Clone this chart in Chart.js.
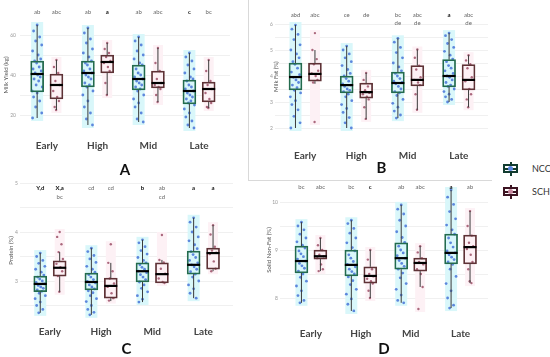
<!DOCTYPE html>
<html lang="en">
<head>
<meta charset="UTF-8" />
<title>Milk traits by lactation stage</title>
<script src="https://cdn.jsdelivr.net/npm/chart.js"></script>
<style>
  body { margin: 0; background: #fff; font-family: Lato, 'Open Sans', sans-serif; }
  #wrap { position: relative; width: 550px; height: 357px; overflow: hidden; }
  #wrap canvas { position: absolute; }
  .sep { position: absolute; background: #d9d9d9; }
  .legend { position: absolute; left: 503px; top: 157px; font-size: 9px; color: #333; }
  .legend .row { display: flex; align-items: center; height: 23px; }
  .icon { position: relative; width: 15px; height: 14px; margin-right: 14px; }
  .icon span { position: absolute; }
  .icon .wk { left: 6.5px; top: 0; width: 2px; height: 14px; }
  .icon .bx { left: 0; top: 2.5px; width: 15px; height: 9px; border: 2px solid; box-sizing: border-box; background: #fff; }
  .icon .md { left: 0; top: 6px; width: 15px; height: 2px; }
  .icon .dt { left: 5px; top: 4.5px; width: 5px; height: 5px; border-radius: 50%; }
</style>
</head>
<body>
<div id="wrap">
  <canvas id="chartA" width="247" height="178" style="left:0;top:0"></canvas>
  <canvas id="chartB" width="243" height="180" style="left:249px;top:0"></canvas>
  <canvas id="chartC" width="247" height="179" style="left:0;top:178px"></canvas>
  <canvas id="chartD" width="243" height="179" style="left:249px;top:178px"></canvas>
  <div class="sep" style="left:248px;top:0;width:1px;height:181px"></div>
  <div class="sep" style="left:248px;top:180px;width:244px;height:1px"></div>
  <div class="legend">
    <div class="row">
      <div class="icon">
        <span class="wk" style="background:#123c30"></span>
        <span class="bx" style="border-color:#123c30"></span>
        <span class="md" style="background:#123c30"></span>
        <span class="dt" style="background:#5a86e0"></span>
      </div>NCC
    </div>
    <div class="row">
      <div class="icon">
        <span class="wk" style="background:#3c1422"></span>
        <span class="bx" style="border-color:#3c1422"></span>
        <span class="md" style="background:#3c1422"></span>
        <span class="dt" style="background:#c98aa0"></span>
      </div>SCH
    </div>
  </div>
</div>

<script>
  const categories = ['Early', 'High', 'Mid', 'Late'];

  // box stats per stage: [min, q1, median, q3, max]
  const yieldNCC = [[18.5, 31.5, 40.5, 47, 65], [15, 34, 41, 47, 63.5], [16.5, 32.5, 38, 45, 59], [13.5, 25.5, 32, 37.5, 51]];
  const yieldSCH = [[22.5, 28, 35, 40.5, 47.5], [30, 41, 46.5, 50, 56], [26.5, 33.5, 36, 42, 53.5], [23.5, 26.5, 33, 36.5, 47.5]];
  const yieldNCCPts = [
    [65, 62, 59, 57, 55, 52, 50, 48, 47, 46, 44, 43, 42, 41, 40, 39, 38, 37, 35, 34, 32, 31, 29, 27, 24, 21, 18.5],
    [63.5, 61, 58, 56, 53, 51, 49, 47, 46, 45, 43, 42, 41, 40, 39, 38, 36, 35, 34, 32, 30, 27, 24, 21, 18, 15],
    [59, 57, 55, 52, 50, 48, 46, 45, 43, 41, 40, 39, 38, 37, 36, 35, 34, 33, 32, 30, 28, 26, 24, 21, 18, 16.5],
    [51, 49, 47, 45, 43, 41, 39, 38, 37, 35, 34, 33, 32, 31, 30, 29, 28, 27, 26, 25, 23, 21, 19, 17, 15, 13.5]
  ];
  const yieldSCHPts = [
    [47.5, 44, 41, 37, 35, 32, 29, 27, 24, 22.5],
    [56, 53, 51, 49, 47, 46, 44, 42, 36, 30],
    [53.5, 46, 42, 38, 36, 35, 34, 33, 30, 26.5],
    [47.5, 42, 37, 35, 33, 31, 28, 26, 24, 23.5]
  ];
  const yieldLetters = ['ab', 'abc', 'ab', 'a', 'ab', 'abc', 'c', 'bc'];
  const yieldBold = [false, false, false, true, false, false, true, false];
  const yieldGrid = [20, 30, 40, 50, 60];
  const yieldTicks = [20, 40, 60];

  const fatNCC = [[2.0, 3.46, 3.96, 4.5, 5.96], [2.0, 3.35, 3.65, 4.0, 5.15], [2.38, 3.35, 3.73, 4.15, 5.45], [3.0, 3.58, 4.0, 4.63, 5.65]];
  const fatSCH = [[3.7, 3.8, 4.08, 4.5, 5.0], [2.35, 3.15, 3.38, 3.73, 4.12], [2.7, 3.62, 3.85, 4.4, 5.02], [2.8, 3.46, 3.85, 4.44, 4.8]];
  const fatNCCPts = [
    [5.96, 5.8, 5.6, 5.4, 5.2, 5.0, 4.85, 4.7, 4.55, 4.45, 4.3, 4.15, 4.05, 3.95, 3.85, 3.75, 3.65, 3.55, 3.45, 3.35, 3.2, 3.05, 2.9, 2.7, 2.45, 2.2, 2.0],
    [5.15, 5.0, 4.85, 4.7, 4.55, 4.4, 4.25, 4.1, 4.0, 3.9, 3.8, 3.7, 3.65, 3.6, 3.5, 3.45, 3.4, 3.3, 3.2, 3.05, 2.9, 2.75, 2.6, 2.4, 2.2, 2.0],
    [5.45, 5.3, 5.1, 4.9, 4.7, 4.5, 4.35, 4.2, 4.1, 4.0, 3.9, 3.8, 3.75, 3.7, 3.6, 3.5, 3.4, 3.35, 3.25, 3.1, 2.95, 2.8, 2.65, 2.5, 2.38],
    [5.65, 5.55, 5.4, 5.25, 5.1, 4.95, 4.8, 4.65, 4.55, 4.4, 4.3, 4.2, 4.1, 4.0, 3.95, 3.85, 3.75, 3.65, 3.6, 3.5, 3.4, 3.3, 3.2, 3.1, 3.0]
  ];
  const fatSCHPts = [
    [5.65, 5.0, 4.65, 4.45, 4.2, 4.1, 4.0, 3.85, 3.75, 2.23],
    [4.12, 3.85, 3.6, 3.45, 3.35, 3.3, 3.2, 3.1, 2.8, 2.35],
    [5.02, 4.7, 4.4, 4.25, 3.95, 3.85, 3.75, 3.65, 3.3, 2.7],
    [4.8, 4.6, 4.45, 4.3, 3.95, 3.8, 3.5, 3.3, 3.1, 2.8]
  ];
  const fatLetters = ['abd', 'abc', 'ce', 'de', 'bc\nde', 'abc\nde', 'a', 'abc\nde'];
  const fatBold = [false, false, false, false, false, false, true, false];
  const fatGrid = [2, 2.5, 3, 3.5, 4, 4.5, 5, 5.5, 6];
  const fatTicks = [2, 3, 4, 5, 6];

  const proteinNCC = [[2.35, 2.78, 2.94, 3.10, 3.57], [2.31, 2.82, 2.98, 3.16, 3.67], [2.57, 2.98, 3.2, 3.37, 3.84], [2.65, 3.14, 3.33, 3.61, 4.29]];
  const proteinSCH = [[2.78, 3.1, 3.27, 3.41, 3.59], [2.59, 2.65, 2.9, 3.06, 3.37], [2.96, 2.96, 3.14, 3.37, 3.43], [3.2, 3.24, 3.57, 3.67, 4.14]];
  const proteinNCCPts = [
    [3.57, 3.5, 3.42, 3.36, 3.3, 3.24, 3.18, 3.12, 3.08, 3.04, 3.0, 2.97, 2.94, 2.91, 2.88, 2.85, 2.82, 2.79, 2.75, 2.7, 2.64, 2.57, 2.5, 2.42, 2.35],
    [3.67, 3.6, 3.52, 3.45, 3.38, 3.3, 3.24, 3.18, 3.13, 3.08, 3.03, 2.99, 2.96, 2.92, 2.88, 2.84, 2.8, 2.76, 2.7, 2.64, 2.58, 2.5, 2.42, 2.36, 2.31],
    [3.84, 3.78, 3.7, 3.62, 3.55, 3.48, 3.42, 3.37, 3.33, 3.28, 3.24, 3.2, 3.17, 3.13, 3.08, 3.03, 2.98, 2.92, 2.85, 2.78, 2.7, 2.63, 2.57],
    [4.29, 4.2, 4.1, 4.0, 3.9, 3.82, 3.74, 3.66, 3.6, 3.54, 3.48, 3.42, 3.37, 3.33, 3.29, 3.24, 3.19, 3.14, 3.08, 3.0, 2.92, 2.84, 2.75, 2.65]
  ];
  const proteinSCHPts = [
    [4.0, 3.9, 3.75, 3.59, 3.45, 3.35, 3.28, 3.2, 3.1, 2.78],
    [3.75, 3.37, 3.2, 3.05, 2.95, 2.88, 2.75, 2.65, 2.6],
    [3.94, 3.43, 3.38, 3.25, 3.15, 3.05, 2.98, 2.96],
    [4.14, 3.95, 3.7, 3.62, 3.58, 3.55, 3.4, 3.25, 3.2]
  ];
  const proteinLetters = ['Y,d', 'X,a\nbc', 'cd', 'cd', 'b', 'ab\ncd', 'a', 'a'];
  const proteinBold = [true, true, false, false, true, false, true, true];
  const proteinGrid = [2.5, 3, 3.5, 4, 4.5, 5];
  const proteinTicks = [3, 4, 5];

  const snfNCC = [[7.9, 8.52, 8.77, 9.08, 9.58], [7.73, 8.46, 8.69, 9.0, 9.62], [7.9, 8.6, 8.83, 9.15, 9.94], [7.79, 8.71, 8.94, 9.33, 10.25]];
  const snfSCH = [[8.56, 8.81, 8.87, 9.0, 9.25], [8.0, 8.31, 8.46, 8.65, 9.0], [8.23, 8.56, 8.73, 8.83, 9.08], [8.31, 8.71, 9.06, 9.31, 9.81]];
  const snfNCCPts = [
    [9.58, 9.5, 9.42, 9.33, 9.25, 9.17, 9.1, 9.04, 8.98, 8.92, 8.86, 8.81, 8.77, 8.72, 8.67, 8.62, 8.56, 8.5, 8.43, 8.35, 8.25, 8.15, 8.05, 7.95, 7.9],
    [9.62, 9.55, 9.45, 9.35, 9.25, 9.15, 9.05, 8.98, 8.9, 8.83, 8.76, 8.7, 8.65, 8.6, 8.55, 8.5, 8.44, 8.36, 8.28, 8.18, 8.08, 7.98, 7.87, 7.73],
    [9.94, 9.85, 9.75, 9.62, 9.5, 9.38, 9.26, 9.16, 9.08, 9.0, 8.94, 8.88, 8.83, 8.78, 8.72, 8.66, 8.6, 8.52, 8.42, 8.3, 8.18, 8.06, 7.95, 7.9],
    [10.25, 10.1, 9.95, 9.8, 9.65, 9.52, 9.42, 9.33, 9.25, 9.15, 9.06, 8.98, 8.94, 8.9, 8.85, 8.8, 8.75, 8.7, 8.6, 8.45, 8.3, 8.15, 8.0, 7.85, 7.79]
  ];
  const snfSCHPts = [
    [9.25, 9.1, 9.0, 8.9, 8.87, 8.83, 8.7, 8.6, 8.56],
    [9.0, 8.8, 8.6, 8.5, 8.45, 8.4, 8.35, 8.3, 8.15, 8.0],
    [9.08, 8.95, 8.83, 8.75, 8.7, 8.6, 8.5, 8.23, 7.77],
    [9.81, 9.5, 9.3, 9.15, 9.08, 9.02, 8.9, 8.75, 8.6, 8.35, 8.31]
  ];
  const snfLetters = ['bc', 'abc', 'bc', 'c', 'ab', 'abc', 'a', 'ab'];
  const snfBold = [false, false, false, true, false, false, true, false];
  const snfGrid = [8, 8.5, 9, 9.5, 10];
  const snfTicks = [8, 9, 10];

  const OFF = 0.19;   // half distance between the NCC and SCH box
  const JIT = [0, -0.7, 0.5, -0.3, 0.9, -0.9, 0.2, 0.7, -0.5, -0.1, 0.4, -0.8, 0.8, -0.4, 0.1, 0.6, -0.6, 0.3, -0.2, 1, -1];

  const pos = (i, side) => i + 1 + side * OFF;

  const boxPlugin = {
    id: 'boxes',
    beforeDatasetsDraw(chart, args, o) {
      const {ctx, scales: {x, y}} = chart;
      ctx.save();
      [[o.nccPts, -1, '#d9f7fa', 6], [o.schPts, 1, '#fdf1f5', 5]].forEach(([pts, side, col, hw]) => {
        pts.forEach((arr, i) => {
          const cx = x.getPixelForValue(pos(i, side));
          const t = y.getPixelForValue(Math.max(...arr)) - 3;
          const b = y.getPixelForValue(Math.min(...arr)) + 3;
          ctx.fillStyle = col;
          ctx.fillRect(cx - hw, t, hw * 2, b - t);
        });
      });
      ctx.restore();
    },
    afterDatasetsDraw(chart, args, o) {
      const {ctx, chartArea, scales: {x, y}} = chart;
      ctx.save();
      [[o.ncc, -1], [o.sch, 1]].forEach(([stats, side]) => {
        stats.forEach((s, i) => {
          const cx = x.getPixelForValue(pos(i, side));
          ctx.strokeStyle = '#3a3a3a';
          ctx.lineWidth = 1;
          ctx.beginPath();
          ctx.moveTo(cx, y.getPixelForValue(s[0]));
          ctx.lineTo(cx, y.getPixelForValue(s[1]));
          ctx.moveTo(cx, y.getPixelForValue(s[3]));
          ctx.lineTo(cx, y.getPixelForValue(s[4]));
          ctx.stroke();
          const my = y.getPixelForValue(s[2]);
          ctx.strokeStyle = '#000';
          ctx.lineWidth = 2.2;
          ctx.beginPath();
          ctx.moveTo(cx - 6.5, my);
          ctx.lineTo(cx + 6.5, my);
          ctx.stroke();
        });
      });
      // significance letters above the boxes
      ctx.textAlign = 'center';
      ctx.textBaseline = 'middle';
      o.letters.forEach((txt, k) => {
        const cx = x.getPixelForValue(pos(Math.floor(k / 2), k % 2 ? 1 : -1));
        txt.split('\n').forEach((line, j) => {
          const bold = j === 0 && o.bold[k];
          ctx.font = (bold ? 'bold ' : '') + '6px Lato';
          ctx.fillStyle = bold ? '#111' : '#666';
          ctx.fillText(line, cx, chartArea.top + o.letterY + j * o.lineStep);
        });
      });
      ctx.restore();
    }
  };

  function makeChart(id, p) {
    const boxes = (stats, side) => stats.map((s, i) => ({x: pos(i, side), y: [s[1], s[3]]}));
    const points = (pts, side, spread) => pts.flatMap((arr, i) =>
      arr.map((v, k) => ({x: pos(i, side) + JIT[k % JIT.length] * spread, y: v})));

    return new Chart(document.getElementById(id), {
      type: 'bar',
      data: {
        datasets: [
          { data: boxes(p.ncc, -1), backgroundColor: 'rgba(0,0,0,0)', borderColor: '#236b4e', borderWidth: 1.1,
            borderSkipped: false, barThickness: 13, maxBarThickness: 13, grouped: false },
          { data: boxes(p.sch, 1), backgroundColor: 'rgba(0,0,0,0)', borderColor: '#5e3236', borderWidth: 1.1,
            borderSkipped: false, barThickness: 13, maxBarThickness: 13, grouped: false },
          { type: 'scatter', data: points(p.nccPts, -1, 0.1), pointRadius: 1.4, borderWidth: 0,
            backgroundColor: 'rgba(70,115,215,0.85)' },
          { type: 'scatter', data: points(p.schPts, 1, 0.07), pointRadius: 1.2, borderWidth: 0,
            backgroundColor: 'rgba(150,70,95,0.8)' }
        ]
      },
      options: {
        responsive: false,
        animation: false,
        layout: { padding: { top: p.padTop, right: p.padRight, left: 0, bottom: 0 } },
        plugins: {
          legend: { display: false },
          tooltip: { enabled: false },
          boxes: { ncc: p.ncc, sch: p.sch, nccPts: p.nccPts, schPts: p.schPts,
                   letters: p.letters, bold: p.bold, letterY: p.letterY, lineStep: p.lineStep }
        },
        scales: {
          x: {
            type: 'linear', min: p.xMin, max: p.xMax, offset: false,
            afterBuildTicks: s => { s.ticks = categories.map((c, i) => ({value: i + 1})); },
            afterFit: s => { s.height = p.xAxisH; },
            ticks: { autoSkip: false, maxRotation: 0, padding: p.xTickPad, color: '#444',
                     font: { family: 'Lato', size: 10, weight: 'bold' },
                     callback: v => categories[v - 1] },
            grid: { display: false },
            border: { display: false },
            title: { display: true, text: p.panel, color: '#111',
                     font: { family: 'Lato', size: 15, weight: 'bold', lineHeight: 1 },
                     padding: { top: 0, bottom: p.panelPad } }
          },
          y: {
            min: p.yMin, max: p.yMax, beginAtZero: false,
            afterBuildTicks: s => { s.ticks = p.grid.map(v => ({value: v})); },
            afterFit: s => { s.width = p.yAxisW; },
            ticks: { padding: p.yTickPad, color: '#999', font: { family: 'Lato', size: 5 },
                     callback: v => p.ticks.includes(v) ? v : '' },
            grid: { color: '#ececec', lineWidth: 0.8, drawTicks: false },
            border: { display: false },
            title: { display: true, text: p.title, color: '#555',
                     font: { family: 'Lato', size: 6 }, padding: { top: p.titlePad, bottom: 0 } }
          }
        }
      },
      plugins: [boxPlugin]
    });
  }

  makeChart('chartA', {
    panel: 'A', title: 'Milk Yield (kg)',
    ncc: yieldNCC, sch: yieldSCH, nccPts: yieldNCCPts, schPts: yieldSCHPts,
    letters: yieldLetters, bold: yieldBold, grid: yieldGrid, ticks: yieldTicks,
    xMin: 0.472, xMax: 4.61, yMin: 12, yMax: 68,
    padTop: 19, padRight: 17, yAxisW: 20, xAxisH: 47, xTickPad: 1, panelPad: 0,
    yTickPad: 4, titlePad: 2.4, letterY: -7, lineStep: 8
  });

  makeChart('chartB', {
    panel: 'B', title: 'Milk Fat (%)',
    ncc: fatNCC, sch: fatSCH, nccPts: fatNCCPts, schPts: fatSCHPts,
    letters: fatLetters, bold: fatBold, grid: fatGrid, ticks: fatTicks,
    xMin: 0.41, xMax: 4.57, yMin: 1.75, yMax: 6.2,
    padTop: 18.8, padRight: 2, yAxisW: 26, xAxisH: 45.5, xTickPad: 7.5, panelPad: 4.5,
    yTickPad: 2, titlePad: 23.4, letterY: -3.8, lineStep: 8
  });

  makeChart('chartC', {
    panel: 'C', title: 'Protein (%)',
    ncc: proteinNCC, sch: proteinSCH, nccPts: proteinNCCPts, schPts: proteinSCHPts,
    letters: proteinLetters, bold: proteinBold, grid: proteinGrid, ticks: proteinTicks,
    xMin: 0.414, xMax: 4.58, yMin: 2.25, yMax: 5.0,
    padTop: 5, padRight: 14, yAxisW: 20, xAxisH: 39.25, xTickPad: 0, panelPad: 0,
    yTickPad: 2, titlePad: 7.4, letterY: 5, lineStep: 9
  });

  makeChart('chartD', {
    panel: 'D', title: 'Solid Non-Fat (%)',
    ncc: snfNCC, sch: snfSCH, nccPts: snfNCCPts, schPts: snfSCHPts,
    letters: snfLetters, bold: snfBold, grid: snfGrid, ticks: snfTicks,
    xMin: 0.38, xMax: 4.55, yMin: 7.7, yMax: 10.3,
    padTop: 9.6, padRight: 0, yAxisW: 31, xAxisH: 44.6, xTickPad: 7.6, panelPad: 0,
    yTickPad: 2, titlePad: 16.4, letterY: -0.6, lineStep: 8
  });
</script>
</body>
</html>
